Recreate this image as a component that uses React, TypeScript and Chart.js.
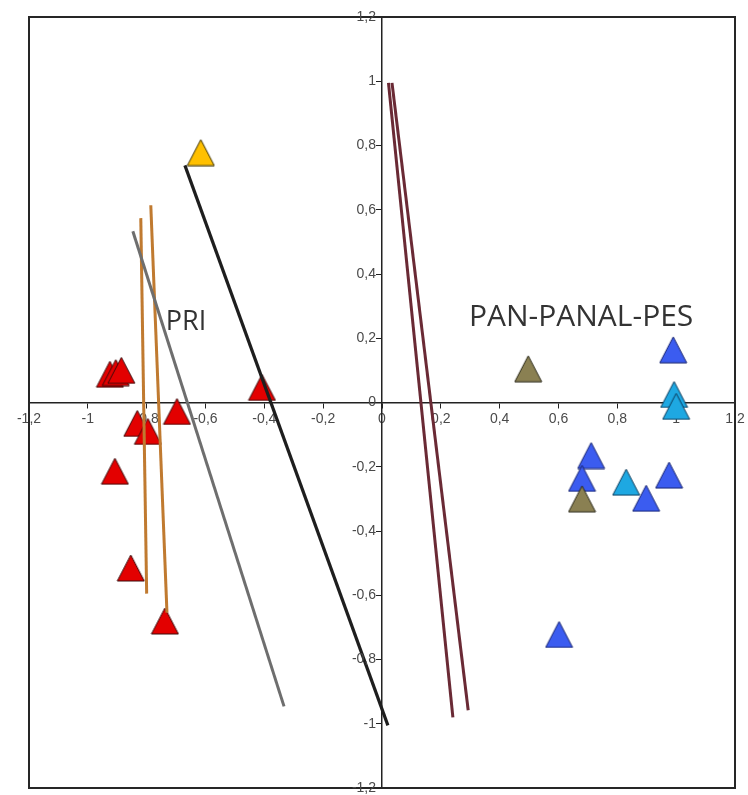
import React, { useEffect, useRef } from 'react';
import { Chart, registerables } from 'chart.js';

Chart.register(...registerables);

// Tick labels (comma decimals as in the reference)
const tickLabels = ['-1,2', '-1', '-0,8', '-0,6', '-0,4', '-0,2', '0', '0,2', '0,4', '0,6', '0,8', '1', '1,2'];

// PRI group (red)
const redX = [-0.925, -0.905, -0.886, -0.408, -0.697, -0.832, -0.796, -0.908, -0.854, -0.738];
const redY = [0.088, 0.093, 0.1, 0.047, -0.028, -0.065, -0.09, -0.214, -0.515, -0.68];
// yellow
const yellowX = [-0.616];
const yellowY = [0.778];
// olive
const oliveX = [0.497, 0.68];
const oliveY = [0.105, -0.3];
// blue
const blueX = [0.99, 0.711, 0.68, 0.898, 0.976, 0.602];
const blueY = [0.164, -0.165, -0.236, -0.298, -0.226, -0.722];
// cyan
const cyanX = [0.993, 1.0, 0.83];
const cyanY = [0.025, -0.012, -0.248];

// Vector lines: [x1, y1, x2, y2]
const blackLine = [-0.67, 0.738, 0.02, -1.005];
const grayLine = [-0.847, 0.533, -0.333, -0.946];
const orangeLine1 = [-0.82, 0.574, -0.8, -0.595];
const orangeLine2 = [-0.786, 0.614, -0.731, -0.654];
const brownLine1 = [0.022, 0.995, 0.241, -0.98];
const brownLine2 = [0.034, 0.995, 0.293, -0.958];

// Text labels in data coordinates
const labelTexts = ['PRI', 'PAN-PANAL-PES'];
const labelX = [-0.735, 0.677];
const labelY = [0.25, 0.264];

const toPoints = (xs: number[], ys: number[]) => xs.map((x, i) => ({ x, y: ys[i] }));
const linePts = (l: number[]) => [{ x: l[0], y: l[1] }, { x: l[2], y: l[3] }];

const TICK_FONT = '14px "Liberation Sans", Arial, sans-serif';

// Excel-like triangle marker (width ≈ height)
function makeTriangle(fill: string, stroke: string): HTMLCanvasElement {
  const w = 29;
  const h = 28;
  const c = document.createElement('canvas');
  c.width = w;
  c.height = h;
  const g = c.getContext('2d')!;
  g.beginPath();
  g.moveTo(w / 2, 1);
  g.lineTo(w - 1, h - 1);
  g.lineTo(1, h - 1);
  g.closePath();
  g.fillStyle = fill;
  g.fill();
  g.lineWidth = 1;
  g.lineJoin = 'miter';
  g.strokeStyle = stroke;
  g.stroke();
  return c;
}

export default function App() {
  const ref = useRef<HTMLCanvasElement | null>(null);

  useEffect(() => {
    document.body.style.margin = '0';
    if (!ref.current) return;

    const tri = (label: string, xs: number[], ys: number[], fill: string, border: string) => ({
      type: 'scatter' as const,
      label,
      data: toPoints(xs, ys),
      pointStyle: makeTriangle(fill, border),
      pointRadius: 14,
      pointHoverRadius: 14,
      backgroundColor: fill,
      borderColor: border,
      order: 2,
    });
    const ln = (label: string, l: number[], color: string, width: number) => ({
      type: 'line' as const,
      label,
      data: linePts(l),
      borderColor: color,
      borderWidth: width,
      pointRadius: 0,
      showLine: true,
      fill: false,
      order: 1,
    });

    const boxPlugin = {
      id: 'boxAndLabels',
      afterDraw(chart: any) {
        const { ctx, chartArea, scales } = chart;
        ctx.save();
        ctx.strokeStyle = '#262626';
        ctx.lineWidth = 2;
        ctx.strokeRect(chartArea.left, chartArea.top, chartArea.right - chartArea.left, chartArea.bottom - chartArea.top);
        // y-axis tick labels, left of the centred axis
        const ax = scales.x.getPixelForValue(0);
        ctx.fillStyle = '#4a4a4a';
        ctx.font = TICK_FONT;
        ctx.textAlign = 'right';
        ctx.textBaseline = 'middle';
        scales.y.ticks.forEach((t: any, i: number) => {
          ctx.fillText(tickLabels[i], ax - 6, scales.y.getPixelForValue(t.value));
        });
        // annotations
        ctx.fillStyle = '#333333';
        labelTexts.forEach((t, i) => {
          const px = scales.x.getPixelForValue(labelX[i]);
          const py = scales.y.getPixelForValue(labelY[i]);
          ctx.font = i === 0 ? '27px "Open Sans"' : '30px "Open Sans"';
          ctx.textAlign = i === 0 ? 'left' : 'center';
          ctx.fillText(t, px, py);
        });
        ctx.restore();
      },
    };

    const zeroFit = (axis: 'x' | 'y') => (scale: any) => {
      if (axis === 'x') scale.height = 0;
      else scale.width = 0;
      scale.paddingLeft = 0;
      scale.paddingRight = 0;
      scale.paddingTop = 0;
      scale.paddingBottom = 0;
    };

    const tickFont = { family: '"Liberation Sans", Arial, sans-serif', size: 14 };

    const chart = new Chart(ref.current, {
      type: 'scatter',
      data: {
        datasets: [
          ln('black', blackLine, '#1e1e1e', 3.2),
          ln('gray', grayLine, '#6e6e6e', 3),
          ln('orange1', orangeLine1, '#c07a30', 3),
          ln('orange2', orangeLine2, '#c07a30', 3),
          ln('brown1', brownLine1, '#6a2a35', 3),
          ln('brown2', brownLine2, '#6a2a35', 3),
          tri('red', redX, redY, '#e30000', '#3a0a0a'),
          tri('yellow', yellowX, yellowY, '#ffc000', '#3a3000'),
          tri('olive', oliveX, oliveY, '#8a8052', '#2a2818'),
          tri('blue', blueX, blueY, '#3b5cf0', '#16226e'),
          tri('cyan', cyanX, cyanY, '#1ea8e2', '#0c3a5a'),
        ] as any,
      },
      options: {
        animation: false,
        responsive: true,
        maintainAspectRatio: false,
        layout: { autoPadding: false, padding: { left: 29, right: 13, top: 17, bottom: 7 } },
        plugins: { legend: { display: false }, tooltip: { enabled: false } },
        scales: {
          x: {
            type: 'linear',
            min: -1.2,
            max: 1.2,
            position: { y: 0 } as any,
            afterFit: zeroFit('x'),
            grid: { drawOnChartArea: false, drawTicks: true, tickLength: 5, color: '#222', lineWidth: 1 },
            border: { display: true, color: '#222', width: 1.5 },
            ticks: {
              stepSize: 0.2,
              padding: 3,
              color: '#4a4a4a',
              font: tickFont,
              maxRotation: 0,
              autoSkip: false,
              callback: (_v: any, i: number) => tickLabels[i],
            },
          },
          y: {
            type: 'linear',
            min: -1.2,
            max: 1.2,
            position: { x: 0 } as any,
            afterFit: zeroFit('y'),
            grid: { drawOnChartArea: false, drawTicks: true, tickLength: 5, color: '#222', lineWidth: 1 },
            border: { display: true, color: '#222', width: 1.5 },
            ticks: {
              stepSize: 0.2,
              display: false,
              autoSkip: false,
            },
          },
        },
      },
      plugins: [boxPlugin],
    });

    return () => chart.destroy();
  }, []);

  return (
    <div style={{ width: 748, height: 795, position: 'relative' }}>
      <canvas ref={ref} />
    </div>
  );
}
